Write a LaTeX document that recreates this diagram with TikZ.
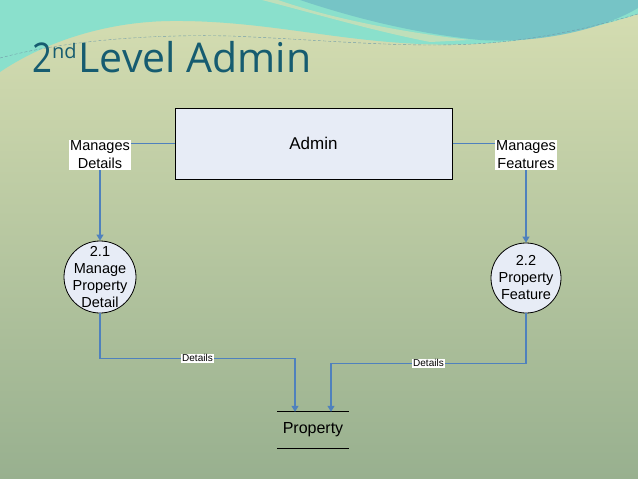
\documentclass[tikz,border=0pt]{standalone}
\usepackage{fontspec}
\setmainfont{Liberation Sans}
\newfontfamily\titlefont{Open Sans}
\usepackage{tikz}
\usetikzlibrary{arrows.meta,positioning}
\definecolor{bgtop}{RGB}{214,222,178}
\definecolor{bgbot}{RGB}{152,176,143}
\definecolor{wavelight}{RGB}{138,224,204}
\definecolor{wavedark}{RGB}{118,196,198}
\definecolor{titleteal}{RGB}{22,92,112}
\definecolor{dfdfill}{RGB}{231,236,246}
\definecolor{dfdline}{RGB}{79,129,189}

\begin{document}
\begin{tikzpicture}[x=1pt,y=-1pt,
        entity/.style={draw=black, line width=1pt, fill=dfdfill, minimum width=277pt, minimum height=71pt, font=\fontsize{17}{20}\selectfont},
        proc/.style={circle, draw=black, line width=0.8pt, fill=dfdfill, minimum size=72pt, inner sep=0pt},
        proctext/.style={align=center, inner sep=0pt, font=\fontsize{14.5}{17}\selectfont},
        flowlbl/.style={fill=white, inner sep=1pt, align=center, font=\fontsize{14.5}{18}\selectfont},
        smalllbl/.style={fill=white, inner sep=0.8pt, font=\fontsize{10}{12}\selectfont},
        flow/.style={draw=dfdline, line width=1.1pt},
        flowarr/.style={flow, -{Triangle[length=6pt,width=7pt]}},
        store/.style={minimum width=71pt, minimum height=36pt, inner sep=0pt, font=\fontsize{16}{19}\selectfont}
      ]
      \useasboundingbox (0,0) rectangle (638,479);
      % background
      \shade[top color=bgtop, bottom color=bgbot] (0,0) rectangle (638,479);
      \fill[wavelight] (0,0) -- (0,72) .. controls (40,45) and (100,22) .. (170,21)
        .. controls (260,20) and (330,40) .. (420,44) .. controls (510,48) and (590,30) .. (638,14) -- (638,0) -- cycle;
      \fill[bgtop!70!wavelight] (278,0) .. controls (330,18) and (400,32) .. (470,40) -- (430,42) .. controls (370,30) and (320,15) .. (262,0) -- cycle;
      \fill[wavedark] (300,0) .. controls (360,20) and (420,34) .. (480,40) .. controls (550,44) and (610,25) .. (638,8) -- (638,0) -- cycle;
      \draw[titleteal!60, densely dashed, line width=0.4pt] (0,58) .. controls (60,42) and (140,34) .. (230,36) .. controls (330,40) and (420,50) .. (500,42) .. controls (560,36) and (610,22) .. (638,14);
      % title
      \node[anchor=base west, inner sep=0pt, text=titleteal, font=\titlefont\fontsize{41}{46}\selectfont] (title) at (32,72)
        {\scalebox{0.85}[1]{2}\raisebox{14pt}{\fontsize{20}{20}\selectfont nd}\kern2pt Level Admin};
      % external entity
      \node[entity] (admin) at (313.5,143.5) {Admin};
      % flow labels
      \node[flowlbl] (mdet) at (100,155) {Manages\\Details};
      \node[flowlbl] (mfeat) at (526,155) {Manages\\Features};
      % processes
      \node[proc] (p21) at (100,277) {};
      \node[proctext] (p21t) at (p21) {2.1\\Manage\\Property\\Detail};
      \node[proc, minimum size=70pt] (p22) at (526,278) {};
      \node[proctext] (p22t) at (p22) {2.2\\Property\\Feature};
      % data store
      \node[store] (prop) at (313,430) {Property};
      \draw[line width=1pt] (prop.north west) -- (prop.north east);
      \draw[line width=1pt] (prop.south west) -- (prop.south east);
      % flows
      \draw[flow] (admin.west) -- (mdet.east |- admin.west);
      \draw[flow] (admin.east) -- (mfeat.west |- admin.east);
      \draw[flowarr] (mdet) -- (p21);
      \draw[flowarr] (mfeat) -- (p22);
      \draw[flowarr] (p21.south) -- ++(0,45) -| ([xshift=-18pt]prop.north) node[pos=0.25, smalllbl] {Details};
      \draw[flowarr] (p22.south) -- ++(0,50) -| ([xshift=18pt]prop.north) node[pos=0.25, smalllbl] {Details};
    \end{tikzpicture}
\end{document}
